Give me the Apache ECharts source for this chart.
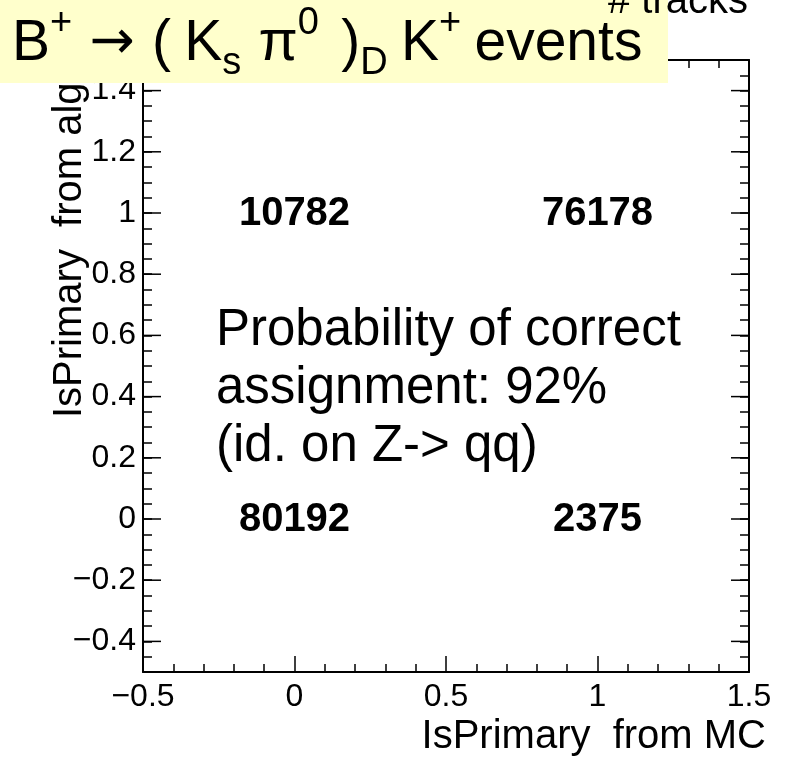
<!DOCTYPE html>
<html>
<head>
<meta charset="utf-8">
<script src="https://cdn.jsdelivr.net/npm/echarts@6/dist/echarts.min.js"></script>
<style>
html,body{margin:0;padding:0;background:#fff;}
#chart{width:787px;height:763px;}
</style>
</head>
<body>
<div id="chart"></div>
<script>
// ---- data ----
var mcValues = [0, 1, 0, 1];            // IsPrimary from MC
var algValues = [1, 1, 0, 0];           // IsPrimary from alg
var counts = [10782, 76178, 80192, 2375];
var yMajorTicks = [-0.4, -0.2, 0, 0.2, 0.4, 0.6, 0.8, 1, 1.2, 1.4];
var xTitle = 'IsPrimary  from MC';
var yTitle = 'IsPrimary  from alg';
var zTitle = '# tracks';
var noteLines = ['Probability of correct', 'assignment: 92%', '(id. on Z-> qq)'];

var FONT = 'Liberation Sans, Arial, Helvetica, sans-serif';
var chart = echarts.init(document.getElementById('chart'), null, {renderer: 'canvas'});

var pts = counts.map(function (c, i) { return [mcValues[i], algValues[i], c]; });

function fmt(v) {
  var r = Math.round(v * 10) / 10;
  var s = String(Math.abs(r));
  return (r < 0 ? '\u2212' : '') + s;
}
function isMajorY(v) { return Math.abs(v * 5 - Math.round(v * 5)) < 1e-6; }

var axisLine = {show: true, onZero: false, lineStyle: {color: '#000', width: 2}};

var option = {
  animation: false,
  backgroundColor: '#fff',
  grid: {left: 143, right: 38, top: 60, bottom: 91, containLabel: false},
  xAxis: [{
    type: 'value', min: -0.5, max: 1.5, interval: 0.5, position: 'bottom',
    axisLine: axisLine,
    axisTick: {show: true, inside: true, length: 16, lineStyle: {color: '#000', width: 1.5}},
    minorTick: {show: true, splitNumber: 5, length: 8, lineStyle: {color: '#000', width: 1.5}},
    splitLine: {show: false},
    axisLabel: {show: true, margin: 9, fontSize: 32, color: '#000', fontFamily: FONT,
      formatter: function (v) { return fmt(v); }}
  }, {
    type: 'value', min: -0.5, max: 1.5, interval: 0.5, position: 'top',
    axisLine: axisLine,
    axisTick: {show: true, inside: true, length: 16, lineStyle: {color: '#000', width: 1.5}},
    minorTick: {show: true, splitNumber: 5, length: 8, lineStyle: {color: '#000', width: 1.5}},
    splitLine: {show: false},
    axisLabel: {show: false}
  }],
  yAxis: [{
    type: 'value', min: -0.5, max: 1.5, interval: 0.05, position: 'left',
    axisLine: axisLine,
    axisTick: {show: true, inside: true, length: 9, lineStyle: {color: '#000', width: 1.5}},
    splitLine: {show: false},
    axisLabel: {show: true, margin: 7, fontSize: 32, color: '#000', fontFamily: FONT,
      showMinLabel: false, showMaxLabel: false,
      formatter: function (v) { return isMajorY(v) ? fmt(v) : ''; }}
  }, {
    type: 'value', min: -0.5, max: 1.5, interval: 0.05, position: 'right',
    axisLine: axisLine,
    axisTick: {show: true, inside: true, length: 9, lineStyle: {color: '#000', width: 1.5}},
    splitLine: {show: false},
    axisLabel: {show: false}
  }],
  series: [{
    type: 'custom',
    xAxisIndex: 0, yAxisIndex: 0,
    data: yMajorTicks,
    clip: false,
    silent: true,
    renderItem: function (params, api) {
      var v = api.value(0);
      var l = api.coord([-0.5, v]);
      var r = api.coord([1.5, v]);
      return {type: 'group', children: [
        {type: 'line', shape: {x1: l[0], y1: l[1], x2: l[0] + 18, y2: l[1]}, style: {stroke: '#000', lineWidth: 1.5}},
        {type: 'line', shape: {x1: r[0] - 18, y1: r[1], x2: r[0], y2: r[1]}, style: {stroke: '#000', lineWidth: 1.5}}
      ]};
    },
    encode: {x: -1, y: 0}
  }, {
    type: 'custom',
    xAxisIndex: 0, yAxisIndex: 0,
    data: pts,
    silent: true,
    renderItem: function (params, api) {
      var p = api.coord([api.value(0), api.value(1)]);
      return {type: 'text', x: p[0], y: p[1] + 1,
        style: {text: String(api.value(2)), fontSize: 40, fontWeight: 'bold', fontFamily: FONT,
          fill: '#000', align: 'center', verticalAlign: 'middle'}};
    },
    encode: {x: 0, y: 1}
  }],
  graphic: [
    {type: 'text', x: 70, y: 418, rotation: Math.PI / 2, z: 50,
      style: {text: yTitle, fontSize: 40, fontFamily: FONT, fill: '#000', align: 'left', verticalAlign: 'middle'}},
    {type: 'text', x: 766, y: 737, z: 50,
      style: {text: xTitle, fontSize: 40, fontFamily: FONT, fill: '#000', align: 'right', verticalAlign: 'middle'}},
    {type: 'text', x: 216, y: 302, z: 50,
      style: {text: noteLines.join('\n'), fontSize: 51, lineHeight: 58, fontFamily: FONT, fill: '#000', align: 'left', verticalAlign: 'top'}},
    {type: 'rect', x: 0, y: 0, z: 100, shape: {width: 668, height: 83}, style: {fill: '#ffffcc'}},
    {type: 'text', x: 748, y: 22, z: 110,
      style: {text: zTitle, fontSize: 40, fontFamily: FONT, fill: '#000', align: 'right', verticalAlign: 'bottom'}},
    {type: 'text', x: 12, y: 44, z: 101,
      style: {
        text: 'B{sup|+}{g1| }{arr|\u2192}{g1| }({g0| }K{sub|s}{g1| }\u03c0{sup|0}{g2| }){sub|D}{g0| }K{sup|+}{g0| }events',
        fontSize: 57, fontFamily: FONT, fill: '#000', align: 'left', verticalAlign: 'middle', lineHeight: 60,
        rich: {
          sup: {fontSize: 38, fontFamily: FONT, fill: '#000', lineHeight: 60, padding: [0, 0, 40, 0]},
          sub: {fontSize: 38, fontFamily: FONT, fill: '#000', lineHeight: 60, padding: [40, 0, 0, 0]},
          arr: {fontSize: 54, fontFamily: 'DejaVu Sans', fill: '#000', lineHeight: 60},
          g1: {fontSize: 62, fontFamily: FONT, lineHeight: 60},
          g2: {fontSize: 80, fontFamily: FONT, lineHeight: 60},
          g0: {fontSize: 48, fontFamily: FONT, lineHeight: 60}
        }
      }}
  ]
};
chart.setOption(option);
</script>
</body>
</html>
